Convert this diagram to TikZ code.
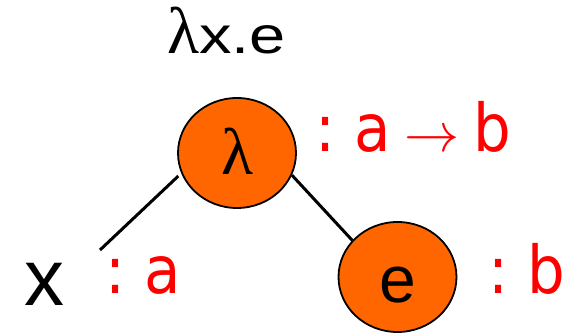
\documentclass[tikz,border=0pt]{standalone}
\usepackage{fontspec}
\setmainfont{Liberation Sans}
\newfontfamily\lamfont{Liberation Serif}
\newfontfamily\typefont{DejaVu Sans Condensed}
\usetikzlibrary{positioning, calc, shapes.geometric}
\definecolor{termorange}{RGB}{255,102,0}

\begin{document}
\begin{tikzpicture}[
    x=1pt,
    y=1pt,
    term/.style={
        draw,
        ellipse,
        line width=1.8pt,
        inner sep=0pt,
        fill=termorange,
        minimum width=118pt,
        minimum height=110pt,
        text height=56pt,
        text depth=12pt,
    },
    edge/.style={
        line width=3pt,
    },
    type/.style={
        text=red,
        font={\typefont\fontsize{66}{66}\selectfont\spaceskip=13pt},
        anchor=base west,
        inner sep=0pt,
    },
]

    \useasboundingbox (0,0) rectangle (570,336);

    \node[font=\fontsize{52}{52}\selectfont, anchor=base, inner sep=0pt] (title) at (226.5,282)
        {{\lamfont\fontsize{66}{66}\selectfont λ}\scalebox{1.25}[1]{x.e}};

    \node[term, font=\lamfont\fontsize{66}{66}\selectfont] (lam) at (237,183) {λ};
    \node[term, font=\fontsize{66}{66}\selectfont, text height=60pt, text depth=8pt] (e) at (397.5,59) {e};
    \node[font=\fontsize{80}{80}\selectfont, anchor=base, inner sep=0pt] (x) at (44,30) {x};
    \coordinate (xtip) at (100,86);

    \node[type] (lamtype) at (315,184)
        {: a\hspace{13.5pt}\scalebox{5.5}{\fontsize{10}{10}\selectfont$\rightarrow$}\hspace{14pt}b};
    \node[type] (xtype) at (105,42) {: a};
    \node[type] (etype) at (488,42) {: b};

    \draw[edge, shorten <=4pt] (lam.200) -- (xtip);
    \draw[edge] (lam.-22) -- (e.141);

\end{tikzpicture}
\end{document}
